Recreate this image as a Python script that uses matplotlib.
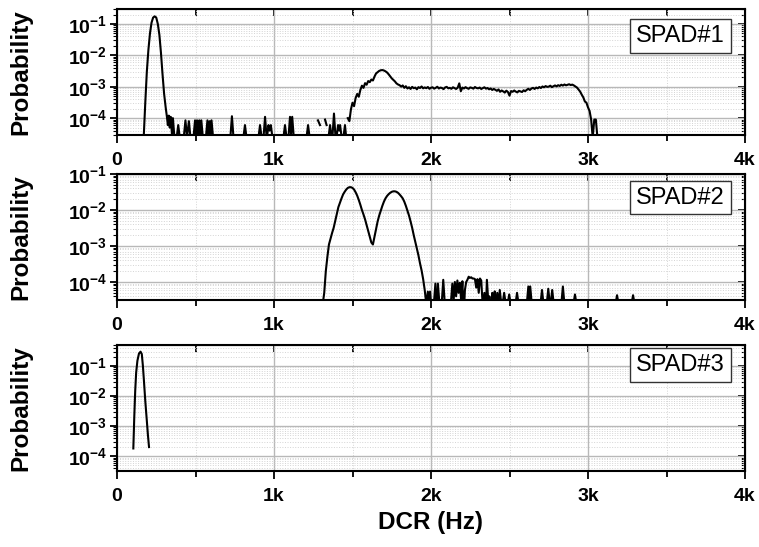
import numpy as np
import matplotlib.pyplot as plt
from matplotlib.ticker import FixedLocator, LogLocator, NullFormatter

plt.rcParams['font.family'] = ['Liberation Sans', 'DejaVu Sans']
plt.rcParams['mathtext.fontset'] = 'custom'
plt.rcParams['mathtext.rm'] = 'Liberation Sans:bold'
plt.rcParams['mathtext.bf'] = 'Liberation Sans:bold'

# ---- SPAD#1 ----
spad1_peak_f = [170, 180, 190, 200, 210, 220, 230, 240, 250, 260, 270, 280, 290, 300, 310]
spad1_peak_p = [0, 3e-4, 3e-3, 1.5e-2, 5e-2, 0.11, 0.16, 0.175, 0.16, 0.10, 0.045, 0.012,
                2.5e-3, 6e-4, 2.2e-4]
spad1_noise_f = [318, 324, 330, 336, 342, 350, 356, 366, 380, 390, 400,
                 425, 436, 446, 458, 468,
                 487, 497, 503, 510, 517, 524, 530, 537, 547,
                 566, 576, 584, 590, 596, 602, 612,
                 722, 732, 742, 805, 815, 825, 901, 911, 921, 933, 943, 953,
                 955, 965, 972, 980, 990, 1060, 1070, 1080,
                 1092, 1102, 1109, 1116, 1126, 1207, 1217, 1227,
                 1272, 1280, 1293, 1300, 1318, 1325, 1335, 1340,
                 1347, 1357, 1367, 1372, 1382, 1392,
                 1398, 1408, 1415, 1421, 1431, 1442, 1452, 1460, 1465]
spad1_noise_p = [1.1e-4, 6e-5, 1.2e-4, 5e-5, 1.1e-4, 3e-5, 1.0e-4, 0, 0, 6e-5, 0,
                 0, 8.5e-5, 0, 8e-5, 0,
                 0, 8.5e-5, 2.5e-5, 8.5e-5, 3e-5, 8.5e-5, 3e-5, 8.5e-5, 0,
                 0, 8.5e-5, 2e-5, 8e-5, 3e-5, 8.5e-5, 0,
                 0, 1.15e-4, 0, 0, 6e-5, 0, 0, 6e-5, 0, 0, 1.1e-4, 0,
                 0, 6e-5, 4e-5, 6e-5, 0, 0, 6e-5, 0,
                 0, 1.1e-4, 3e-5, 1.1e-4, 0, 0, 6e-5, 0,
                 np.nan, 8.5e-5, 6e-5, np.nan, np.nan, 9e-5, 6e-5, np.nan,
                 0, 6e-5, 0, 0, 1.4e-4, 0,
                 0, 6e-5, 4e-5, 6e-5, 0, 0, 6e-5, 0, np.nan]
# plateau, 10 Hz bins from 1470 Hz, in units of 1e-4
spad1_plateau_f = np.arange(1470, 3071, 10)
spad1_plateau_e4 = [
    1.0, 0.8, 1.9, 3.1, 2.4, 4.4, 5.9, 4.8, 7.9, 10.8, 9.2, 13.0, 11.6, 15.2, 14.0, 17.0,
    15.8, 21.0, 26.5, 29.0, 32.0, 33.5, 34.0, 33.0, 31.0, 28.5, 25.0, 21.5, 18.5, 16.5,
    14.8, 12.8, 11.8, 11.2, 10.1, 11.0, 9.2, 10.4,
    8.8, 9.6, 8.5, 9.9, 9.0, 9.4, 8.3, 9.7, 9.1, 10.2, 8.9, 9.5, 9.0, 9.8, 8.6, 9.3,
    9.6, 8.7, 9.2, 10.0, 8.8, 9.4, 9.1, 8.4, 9.5, 9.9, 8.9, 9.2, 8.6, 9.6, 9.0, 8.5, 9.3,
    12.8, 7.2, 9.4,
    8.8, 9.7, 9.0, 8.6, 9.5, 9.2, 8.7, 9.8, 9.1, 8.9, 9.4, 8.5, 9.0, 9.6, 8.7, 9.1, 8.3,
    8.8, 7.9, 8.5,
    8.0, 7.4, 8.2, 6.9, 7.6, 7.1, 6.5, 7.5, 6.8, 5.2,
    7.3, 6.9, 7.6, 7.0, 6.6, 7.4, 7.1, 6.8, 7.7, 7.2,
    8.0, 8.6, 7.9, 8.8, 9.2, 8.5, 9.4, 8.9, 9.8, 9.1,
    10.2, 9.6, 10.5, 9.9, 10.1, 10.8, 9.7, 10.4, 11.0, 10.3,
    11.2, 10.6, 11.6, 10.9, 11.8, 11.1, 11.5, 12.0, 11.3, 11.7,
    11.0, 10.2, 9.4, 8.1, 7.0,
    5.6, 4.6, 3.4, 3.1, 2.2, 1.7, 0.9, 0.0, 0.9, 0.9, 0.0, 0.0]

# ---- SPAD#2 ----
spad2_peak_f = np.arange(1310, 1971, 10)
spad2_peak_p = [0, 5e-5, 2e-4, 5e-4, 1.1e-3, 1.6e-3, 2.3e-3, 3.2e-3, 5e-3, 8e-3, 1.2e-2,
                1.6e-2, 2.1e-2, 2.7e-2, 3.2e-2, 3.7e-2, 4.1e-2, 4.3e-2, 4.3e-2, 4.1e-2,
                3.7e-2, 3.1e-2, 2.5e-2, 1.9e-2, 1.4e-2, 1.0e-2, 7.5e-3, 5.5e-3, 3.8e-3,
                2.6e-3, 1.8e-3, 1.25e-3, 1.1e-3, 1.8e-3, 3.0e-3, 4.8e-3, 7.0e-3, 9.5e-3,
                1.3e-2, 1.7e-2, 2.1e-2, 2.45e-2, 2.75e-2, 3.0e-2, 3.2e-2, 3.3e-2, 3.3e-2,
                3.2e-2, 3.0e-2, 2.7e-2, 2.4e-2, 2.1e-2, 1.7e-2, 1.3e-2, 9.5e-3, 7e-3,
                4.8e-3, 3.2e-3, 2.0e-3, 1.3e-3, 8.5e-4, 5.5e-4, 3.3e-4, 2.1e-4, 1.2e-4,
                6e-5, 0]
spad2_noise_f = [1980, 1987, 1994, 2002, 2012, 2018, 2028, 2036, 2044, 2054, 2068, 2078, 2088,
                 2126, 2136, 2144, 2152, 2160, 2168, 2176, 2184, 2192, 2200, 2208, 2216,
                 2224, 2232, 2240, 2248, 2256, 2264, 2272, 2280, 2288, 2296, 2304, 2312,
                 2320, 2330, 2340, 2348, 2356, 2366, 2372, 2380, 2390, 2398, 2406, 2414,
                 2422, 2432, 2438, 2448, 2456, 2466, 2476, 2488, 2498, 2508, 2538, 2548,
                 2558, 2610, 2620, 2626, 2632, 2642, 2697, 2707, 2717, 2737, 2747, 2757,
                 2762, 2772, 2782, 2830, 2840, 2850, 2907, 2917, 2927, 3175, 3185, 3195,
                 3277, 3287, 3297]
spad2_noise_p = [5.4e-5, 2e-5, 5.4e-5, 2e-5, 0, 0, 9e-5, 1e-5, 9e-5, 0, 0, 1.15e-4, 0,
                 0, 9e-5, 3e-5, 1e-4, 4e-5, 1.1e-4, 5e-5, 9.5e-5, 3e-5, 1.05e-4, 1e-5, 6e-5,
                 1.0e-4, 1.15e-4, 1.4e-4, 1.3e-4, 1.35e-4, 1.25e-4, 1.25e-4, 1.2e-4, 7e-5,
                 1.2e-4, 5e-5, 1.25e-4,
                 1.1e-4, 2e-5, 5e-5, 1e-5, 1.15e-4, 0, 4e-5, 1e-5, 5e-5, 3e-5, 5.5e-5, 2e-5,
                 5e-5, 0, 6e-5, 0, 0, 5e-5, 0, 0, 4.5e-5, 0, 0, 5e-5,
                 0, 0, 7.5e-5, 3e-5, 7.5e-5, 0, 0, 6e-5, 0, 0, 6.5e-5, 0,
                 0, 6e-5, 0, 0, 7.5e-5, 0, 0, 4.5e-5, 0, 0, 4.3e-5, 0,
                 0, 4.3e-5, 0]

# ---- SPAD#3 ----
spad3_f = [104, 110, 116, 122, 130, 140, 150, 158, 165, 172, 180, 190, 197, 204]
spad3_p = [1.8e-4, 2e-3, 1.5e-2, 6e-2, 0.15, 0.26, 0.30, 0.25, 0.1, 3e-2, 7e-3, 1.5e-3,
           5e-4, 2e-4]

labels = ['SPAD#1', 'SPAD#2', 'SPAD#3']
xticks = [0, 1000, 2000, 3000, 4000]
xticklabels = ['0', '1k', '2k', '3k', '4k']
yticks = [1e-4, 1e-3, 1e-2, 1e-1]
yticklabels = [r'$\mathbf{10^{-4}}$', r'$\mathbf{10^{-3}}$', r'$\mathbf{10^{-2}}$', r'$\mathbf{10^{-1}}$']

f1 = list(spad1_peak_f) + list(spad1_noise_f) + list(spad1_plateau_f)
p1 = list(spad1_peak_p) + list(spad1_noise_p) + list(np.array(spad1_plateau_e4) * 1e-4)
f2 = list(spad2_peak_f) + spad2_noise_f
p2 = list(spad2_peak_p) + spad2_noise_p
series = [(f1, p1), (f2, p2), (spad3_f, spad3_p)]

fig = plt.figure(figsize=(7.59, 5.47), dpi=100)
W, H = 759, 547
boxes = [(9, 135), (174, 300), (345, 471)]
ylims = [(2.9e-5, 0.30), (3.16e-5, 0.1), (3.2e-5, 0.5)]
label_y = [0.786, 0.813, 0.84]

for i, ((top, bot), (f, p)) in enumerate(zip(boxes, series)):
    ax = fig.add_axes([117 / W, 1 - bot / H, 628 / W, (bot - top) / H])
    p = np.array(p, dtype=float)
    # empty bins drop to just under the bottom of the axis, as in the original
    p = np.where(p == 0, 2.4e-5, p)
    ax.plot(f, p, color='black', lw=1.5)
    ax.set_yscale('log')
    ax.set_xlim(0, 4000)
    ax.set_ylim(*ylims[i])
    ax.xaxis.set_major_locator(FixedLocator(xticks))
    ax.set_xticklabels(xticklabels, fontsize=14, fontweight='bold')
    ax.xaxis.set_minor_locator(FixedLocator([500, 1500, 2500, 3500]))
    ax.set_yticks(yticks)
    ax.set_yticklabels(yticklabels, fontsize=14)
    ax.yaxis.set_minor_locator(LogLocator(base=10, subs=np.arange(2, 10), numticks=20))
    ax.yaxis.set_minor_formatter(NullFormatter())
    ax.grid(True, which='major', color='#b8b8b8', lw=1.0)
    ax.grid(True, which='minor', color='#d4d4d4', lw=0.7, ls=':')
    ax.set_axisbelow(True)
    for s in ax.spines.values():
        s.set_linewidth(1.5)
    ax.tick_params(axis='x', which='major', direction='out', length=6, width=1.3, pad=6)
    ax.tick_params(axis='x', which='minor', direction='out', length=4, width=1.3)
    ax.tick_params(axis='y', which='major', direction='out', length=5, width=1.3, pad=2)
    ax.tick_params(axis='y', which='minor', direction='out', length=3, width=0.8)

    top_ax = ax.secondary_xaxis('top')
    top_ax.xaxis.set_major_locator(FixedLocator(xticks))
    top_ax.xaxis.set_minor_locator(FixedLocator([500, 1500, 2500, 3500]))
    top_ax.tick_params(which='both', direction='in', length=5, width=1.3, labeltop=False)
    right_ax = ax.secondary_yaxis('right')
    right_ax.set_yticks(yticks)
    right_ax.yaxis.set_minor_locator(LogLocator(base=10, subs=np.arange(2, 10), numticks=20))
    right_ax.yaxis.set_minor_formatter(NullFormatter())
    right_ax.tick_params(which='major', direction='in', length=5, width=1.3, labelright=False)
    right_ax.tick_params(which='minor', direction='in', length=3, width=0.8, labelright=False)

    ax.set_ylabel('Probability', fontsize=17.5, fontweight='bold')
    ax.yaxis.set_label_coords(-0.134, 0.5)
    ax.text(0.897, label_y[i], labels[i], transform=ax.transAxes, fontsize=17,
            ha='center', va='center',
            bbox=dict(boxstyle='square,pad=0.25', fc='white', ec='#333333', lw=1))

fig.text(431 / W, 1 - 522 / H, 'DCR (Hz)', fontsize=17.5, fontweight='bold',
         ha='center', va='center')

fig.savefig('out.png', dpi=100)
